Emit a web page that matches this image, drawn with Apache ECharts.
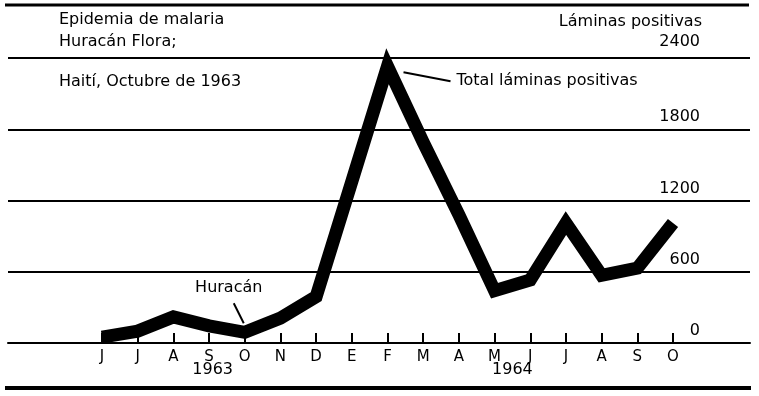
<!DOCTYPE html>
<html><head><meta charset="utf-8">
<script src="https://cdn.jsdelivr.net/npm/echarts@6/dist/echarts.min.js"></script>
<style>html,body{margin:0;padding:0;background:#fff}#c{width:759px;height:396px}</style>
</head><body><div id="c"></div>
<script>
const months = ['J','J','A','S','O','N','D','E','F','M','A','M','J','J','A','S','O'];
const positives = [50, 100, 220, 145, 90, 210, 390, 1360, 2330, 1690, 1080, 440, 530, 1010, 570, 630, 1010];
const yTicks = [0, 600, 1200, 1800, 2400];
const years = ['1963', '1964'];
const yearPos = [3.1, 11.5];
const titleLines = ['Epidemia de malaria', 'Huracán Flora;', 'Haití, Octubre de 1963'];
const yName = 'Láminas positivas';
const peakNote = 'Total láminas positivas';
const stormNote = 'Huracán';
const FONT = 'DejaVu Sans';

const chart = echarts.init(document.getElementById('c'), null, {renderer:'canvas'});
chart.setOption({
  animation: false,
  backgroundColor: '#fff',
  grid: [
    {left: 8, right: 9, top: 58, bottom: 53},
    {left: 102, right: 86, top: 58, bottom: 53}
  ],
  xAxis: [
    {gridIndex: 0, type: 'value', min: 0, max: 1,
     axisLine: {show: true, lineStyle: {color: '#000', width: 2}},
     axisTick: {show: false}, axisLabel: {show: false}, splitLine: {show: false}},
    {gridIndex: 1, type: 'category', data: months, boundaryGap: false,
     axisLine: {show: false},
     axisTick: {show: true, inside: true, length: 10, interval: 0, lineStyle: {color: '#000', width: 2}},
     axisLabel: {interval: 0, margin: 7, color: '#000', fontFamily: FONT, fontSize: 15},
     splitLine: {show: false}}
  ],
  yAxis: [
    {gridIndex: 0, type: 'value', position: 'right', min: yTicks[0], max: yTicks[yTicks.length - 1], interval: 600,
     axisLine: {show: false}, axisTick: {show: false},
     splitLine: {show: true, lineStyle: {color: '#000', width: 2}},
     axisLabel: {inside: true, margin: 50, color: '#000', fontFamily: FONT, fontSize: 16,
       verticalAlign: 'bottom',
       formatter: v => v === 2400 ? '{t|' + v + '}' : '{n|' + v + '}',
       rich: {
         n: {fontFamily: FONT, fontSize: 16, color: '#000', lineHeight: 16, padding: [0,0,8,0]},
         t: {fontFamily: FONT, fontSize: 16, color: '#000', lineHeight: 16, padding: [0,0,16,0]}
       }}},
    {gridIndex: 1, type: 'value', min: 0, max: 2400, show: false}
  ],
  series: [{
    type: 'line', xAxisIndex: 1, yAxisIndex: 1, data: positives,
    symbol: 'none', clip: false, z: 5,
    lineStyle: {color: '#000', width: 13, join: 'miter', cap: 'butt', miterLimit: 10}
  }]
});

function px(i, v) { return chart.convertToPixel({xAxisIndex: 1, yAxisIndex: 1}, [i, v]); }
function xAt(f) {
  const i0 = Math.floor(f), a = px(i0, 0)[0], b = px(i0 + 1, 0)[0];
  return a + (b - a) * (f - i0);
}
const pk = px(8, positives[8]);
const hu = px(4, positives[4]);
const txt = (t, x, y, align, size) => ({type: 'text', x: x, y: y, z: 10,
  style: {text: t, fill: '#000', font: (size || 16) + 'px "' + FONT + '"', textAlign: align, textVerticalAlign: 'middle', align: align, verticalAlign: 'middle'}});
const ln = (x1, y1, x2, y2, w) => ({type: 'line', z: 10, shape: {x1, y1, x2, y2}, style: {stroke: '#000', lineWidth: w}});
const g = [
  ln(5, 5, 749, 5, 3),
  ln(5, 388, 751, 388, 4),
  txt(titleLines[0], 59, 20, 'left'),
  txt(titleLines[1], 59, 42, 'left'),
  txt(titleLines[2], 59, 82, 'left'),
  txt(yName, 702, 22, 'right'),
  ln(pk[0] + 16, pk[1] + 6, pk[0] + 63, pk[1] + 15, 2),
  txt(peakNote, pk[0] + 69, pk[1] + 15, 'left'),
  ln(hu[0] - 11, hu[1] - 29, hu[0] - 1, hu[1] - 9, 2),
  txt(stormNote, hu[0] - 16, hu[1] - 44, 'center')
];
years.forEach((y, k) => g.push(txt(y, xAt(yearPos[k]), 370, 'center')));
chart.setOption({graphic: g});
</script></body></html>
